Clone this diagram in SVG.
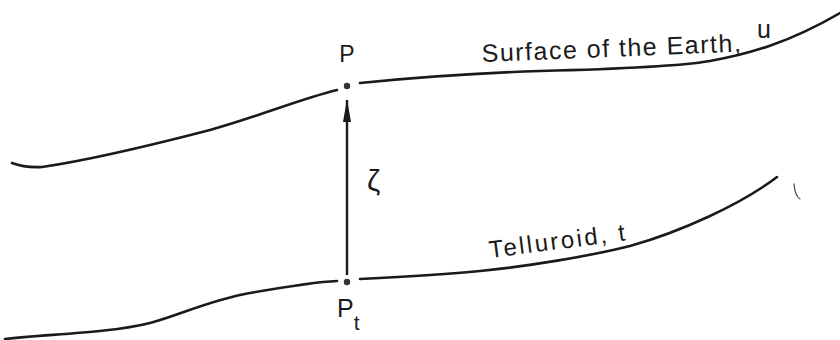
<svg xmlns="http://www.w3.org/2000/svg" width="840" height="340" viewBox="0 0 840 340">
<style>
.curve{fill:none;stroke:#1a1a1a;stroke-width:2.6;stroke-linecap:round}
.lbl{font-family:"Liberation Sans",Arial,sans-serif;fill:#1a1a1a}
.dot{fill:#333}
</style>
<defs>
<marker id="ah" markerWidth="24" markerHeight="10" refX="22" refY="5" orient="auto" markerUnits="userSpaceOnUse" viewBox="0 0 24 10">
<path d="M0,1 L23,5 L0,9 Z" fill="#1a1a1a"/>
</marker>
</defs>
<g id="surface">
<path class="curve" d="M12,163 Q25,168 42,167 C90,160 160,143 210,130 C260,116 300,99 337,90"/>
<path class="curve" d="M360,83 C420,77 480,73 540,71 C620,69 680,66 710,61 C750,54 790,42 840,13"/>
<text class="lbl" x="482" y="62" font-size="25" letter-spacing="1.5" transform="rotate(-2.3 482 62)">Surface of the Earth,</text>
<text class="lbl" x="757" y="38" font-size="25">u</text>
</g>
<g id="telluroid">
<path class="curve" d="M5,339 C50,334 110,333 150,323 C180,315 210,300 250,293 C290,286 315,282 337,281"/>
<path class="curve" d="M360,279 C400,277 440,275 480,271 C530,266 590,256 630,246 C680,232 740,205 777,177"/>
<text class="lbl" x="490" y="258" font-size="24" letter-spacing="2.5" transform="rotate(-7.4 490 258)">Telluroid, t</text>
<path d="M794,184 Q795,196 800,199" fill="none" stroke="#555" stroke-width="1.3" stroke-linecap="round"/>
</g>
<g id="P">
<circle class="dot" cx="347" cy="86" r="3.2"/>
<text class="lbl" x="347" y="62" font-size="23" text-anchor="middle">P</text>
</g>
<g id="Pt">
<circle class="dot" cx="347" cy="282" r="3.2"/>
<text class="lbl" x="337" y="317" font-size="25">P<tspan font-size="21" dy="13">t</tspan></text>
</g>
<g id="connectors">
<line x1="347" y1="275" x2="347" y2="100" stroke="#1a1a1a" stroke-width="2.4" marker-end="url(#ah)"/>
<text class="lbl" x="367" y="191" font-size="30" font-family="DejaVu Sans, sans-serif">ζ</text>
</g>
</svg>
